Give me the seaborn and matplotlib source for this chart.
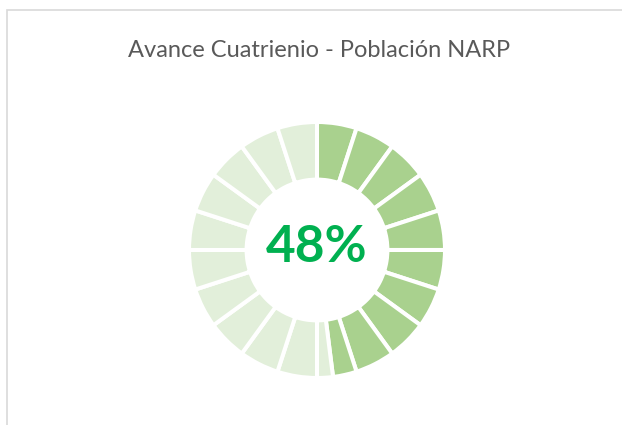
import matplotlib
matplotlib.use("Agg")
import matplotlib.pyplot as plt
import seaborn as sns
from matplotlib.patches import Rectangle

# data
title = "Avance Cuatrienio - Población NARP"
progress = 48          # percent done
n_segments = 20        # ring split in equal blocks
done_color = "#A9D18E"
left_color = "#E2EFDA"

sns.set_theme(style="white")
plt.rcParams["font.family"] = ["Lato", "DejaVu Sans"]

# split every block into a done part and a remaining part
seg = 100 / n_segments
sizes, colors = [], []
for i in range(n_segments):
    lo, hi = i * seg, (i + 1) * seg
    done = max(0, min(hi, progress) - lo)
    if done > 0:
        sizes.append(done)
        colors.append(done_color)
    if seg - done > 0:
        sizes.append(seg - done)
        colors.append(left_color)

fig = plt.figure(figsize=(6.22, 4.25), dpi=100)
fig.patches.append(Rectangle((6.5 / 622, -0.1), 1.2, (425 - 10.5) / 425 + 0.1,
                             transform=fig.transFigure, fill=False,
                             edgecolor="#D9D9D9", linewidth=1.2))

ax = fig.add_axes([0.2833, 0.0805, 0.4527, 0.6626])
ax.pie(sizes, colors=colors, startangle=90, counterclock=False, radius=1,
       wedgeprops=dict(width=0.45, edgecolor="white", linewidth=2.9))
ax.set_xlim(-1.1, 1.1)
ax.set_ylim(-1.1, 1.1)
ax.set_aspect("equal")
ax.axis("off")

ax.text(0, -0.094, f"{progress}%", ha="center", va="baseline",
        fontsize=37, fontweight="bold", color="#00B050")

fig.text(319 / 622, 1 - 57 / 425, title, ha="center", va="baseline",
         fontsize=17, color="#595959")

fig.savefig("out.png", dpi=100)
